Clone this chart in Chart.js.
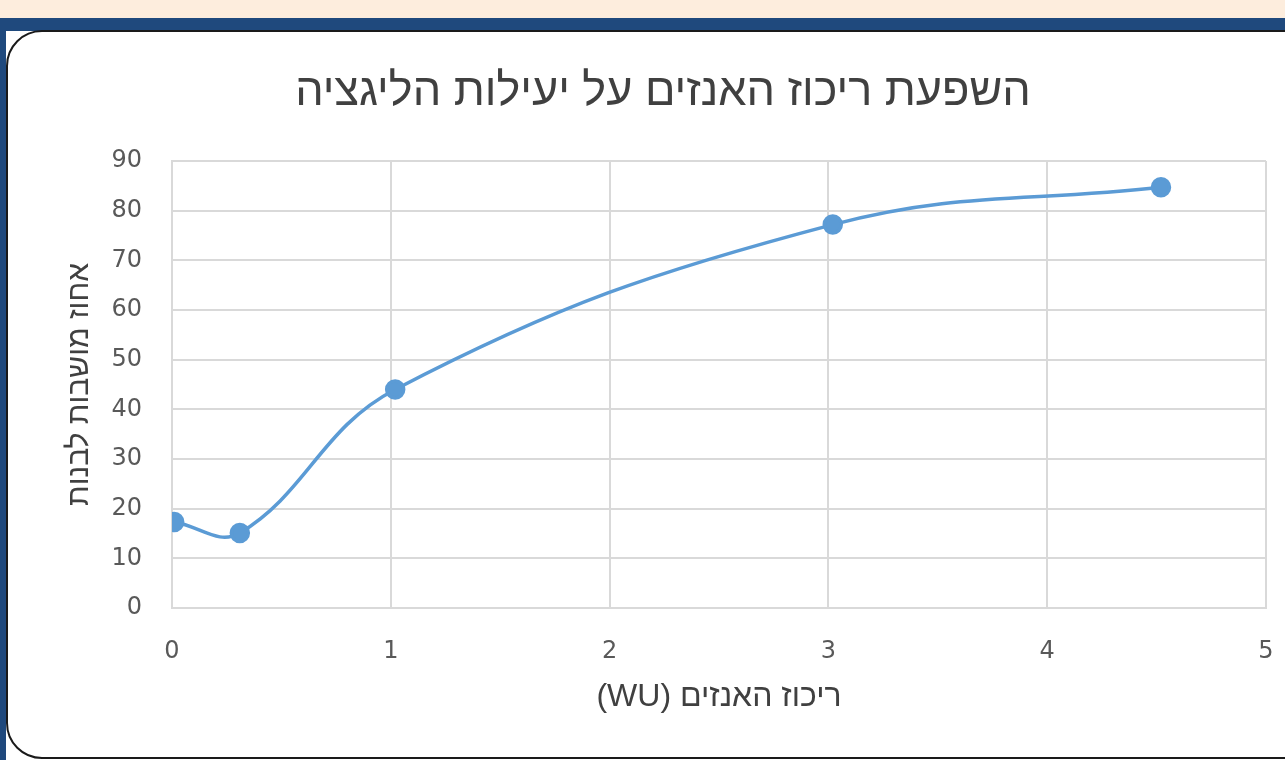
<!DOCTYPE html>
<html lang="he">
<head>
<meta charset="utf-8">
<script src="https://cdn.jsdelivr.net/npm/chart.js@4"></script>
<style>
  body { margin: 0; width: 1285px; height: 760px; overflow: hidden; position: relative; background: #fff; }
  .band { position: absolute; left: 0; top: 0; width: 1285px; height: 18px; background: #fdeddd; }
  .blue { position: absolute; left: 0; top: 18px; width: 1285px; height: 13px; background: #1f497d; }
  .side { position: absolute; left: 0; top: 18px; width: 6px; height: 742px; background: #1f497d; }
  .card { position: absolute; left: 6px; top: 30px; width: 1400px; height: 725px; border: 2px solid #1a1a1a; border-radius: 36px; background: #fff; }
  #wrap { position: absolute; left: 0; top: 0; width: 1326px; height: 760px; }
</style>
</head>
<body>
<div class="band"></div>
<div class="blue"></div>
<div class="side"></div>
<div class="card"></div>
<div id="wrap"><canvas id="grafico"></canvas></div>
<script>
// ריכוז האנזים (WU)
let ריכוז = [0.01, 0.31, 1.02, 3.02, 4.52];
// אחוז מושבות לבנות
let אחוז = [17.3, 15.1, 44.0, 77.2, 84.7];
let xTicks = [0, 1, 2, 3, 4, 5];
let yTicks = [0, 10, 20, 30, 40, 50, 60, 70, 80, 90];

let fonteNum = "'DejaVu Sans', sans-serif";
let fonteHeb = "'Liberation Sans', 'Open Sans', sans-serif";
// embedding RTL so the "(WU)" lands on the left like in Excel
let rtl = t => '\u202B' + t + '\u202C';
let pontos = ריכוז.map((x, i) => ({ x: x, y: אחוז[i] }));

new Chart(document.getElementById('grafico'), {
    type: 'scatter',
    data: {
        datasets: [{
            data: pontos,
            showLine: true,
            borderColor: '#5b9bd5',
            backgroundColor: '#5b9bd5',
            borderWidth: 3.5,
            pointRadius: 8.5,
            pointHoverRadius: 8.5,
            tension: 0.4
        }]
    },
    options: {
        responsive: true,
        maintainAspectRatio: false,
        animation: false,
        layout: { padding: { left: 60, right: 60, top: 0, bottom: 0 } },
        plugins: {
            legend: { display: false },
            tooltip: { enabled: false },
            title: {
                display: true,
                text: rtl('השפעת ריכוז האנזים על יעילות הליגציה'),
                color: '#404040',
                font: { family: fonteHeb, size: 45, weight: 'normal', lineHeight: 1.2 },
                padding: { top: 66, bottom: 41 }
            }
        },
        scales: {
            x: {
                type: 'linear',
                min: 0,
                max: 5,
                afterBuildTicks: s => { s.ticks = xTicks.map(v => ({ value: v })); },
                afterFit: s => { s.height = 152; },
                grid: { color: '#d9d9d9', lineWidth: 2, drawTicks: false },
                border: { color: '#d9d9d9', width: 2 },
                ticks: { color: '#595959', padding: 29, font: { family: fonteNum, size: 24 } },
                title: {
                    display: true,
                    text: rtl('ריכוז האנזים (WU)'),
                    color: '#404040',
                    font: { family: fonteHeb, size: 32, lineHeight: 1.2 },
                    padding: { top: 0, bottom: 44 }
                }
            },
            y: {
                min: 0,
                max: 90,
                afterBuildTicks: s => { s.ticks = yTicks.map(v => ({ value: v })); },
                afterFit: s => { s.width = 112; },
                grid: { color: '#d9d9d9', lineWidth: 2, drawTicks: false },
                border: { color: '#d9d9d9', width: 2 },
                ticks: { color: '#595959', padding: 30, font: { family: fonteNum, size: 24 } },
                title: {
                    display: true,
                    text: rtl('אחוז מושבות לבנות'),
                    color: '#404040',
                    font: { family: fonteHeb, size: 30, lineHeight: 1.2 },
                    padding: { top: 2, bottom: 0 }
                }
            }
        }
    }
});
</script>
</body>
</html>
